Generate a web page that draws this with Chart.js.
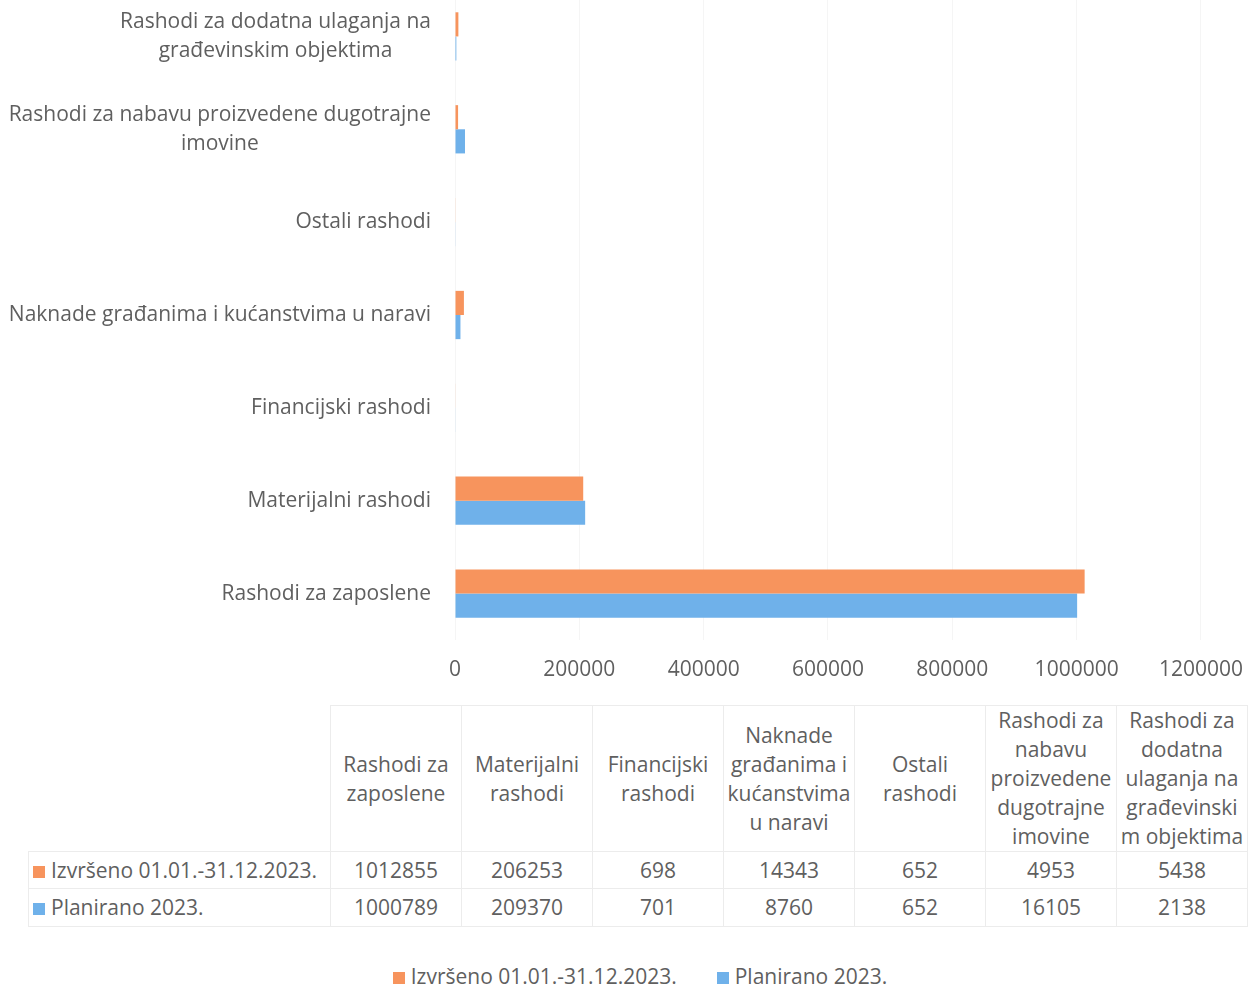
<!DOCTYPE html>
<html>
<head>
<meta charset="utf-8">
<script src="https://cdn.jsdelivr.net/npm/chart.js@4"></script>
<style>
  body { margin: 0; background: #fff; width: 1260px; height: 989px; overflow: hidden; position: relative; font-family: "Open Sans", sans-serif; color: #5f5f5f; }
  #wrap { position: absolute; left: 0; top: -10px; width: 1260px; height: 700px; }
  #tbl { position: absolute; left: 28px; top: 705px; border-collapse: collapse; font-size: 21px; table-layout: fixed; }
  #tbl td { border: 1px solid #ececec; text-align: center; padding: 0 2px; line-height: 29px; overflow-wrap: anywhere; }
  #tbl td.corner { border: none; }
  #tbl td.rowhead { text-align: left; padding-left: 4px; white-space: nowrap; }
  .mk { display: inline-block; width: 12px; height: 12px; margin-right: 6px; }
  #legend { position: absolute; top: 962px; left: 10px; width: 1260px; text-align: center; font-size: 21px; }
  #legend span.item { margin: 0 20px; }
</style>
</head>
<body>
<div id="wrap"><canvas id="myChart"></canvas></div>
<table id="tbl"></table>
<div id="legend"></div>
<script>
var categories = [
  "Rashodi za zaposlene",
  "Materijalni rashodi",
  "Financijski rashodi",
  "Naknade građanima i kućanstvima u naravi",
  "Ostali rashodi",
  "Rashodi za nabavu proizvedene dugotrajne imovine",
  "Rashodi za dodatna ulaganja na građevinskim objektima"
];
var izvrseno = [1012855, 206253, 698, 14343, 652, 4953, 5438];
var planirano = [1000789, 209370, 701, 8760, 652, 16105, 2138];
var seriesNames = ["Izvršeno 01.01.-31.12.2023.", "Planirano 2023."];
var seriesColors = ["#F7945D", "#6FB1EA"];
var xTicks = [0, 200000, 400000, 600000, 800000, 1000000, 1200000];

var textColor = "#5f5f5f";
var font = "21px 'Open Sans'";

// wrap long category names for the axis
function wrapLabel(ctx, text, maxW) {
  var words = text.split(" ");
  var lines = [];
  var cur = "";
  words.forEach(function (w) {
    var t = cur ? cur + " " + w : w;
    if (ctx.measureText(t).width > maxW && cur) {
      lines.push(cur);
      cur = w;
    } else {
      cur = t;
    }
  });
  lines.push(cur);
  return lines;
}

var axisLabelsPlugin = {
  id: "axisLabels",
  afterDraw: function (chart) {
    var ctx = chart.ctx;
    var y = chart.scales.y;
    ctx.save();
    ctx.font = font;
    ctx.fillStyle = textColor;
    ctx.textAlign = "center";
    ctx.textBaseline = "middle";
    var right = chart.chartArea.left - 24;
    categories.forEach(function (c, i) {
      var lines = wrapLabel(ctx, c, 432);
      var maxW = 0;
      lines.forEach(function (l) { maxW = Math.max(maxW, ctx.measureText(l).width); });
      var cy = y.getPixelForValue(i);
      var lh = 29;
      var top = cy - (lines.length - 1) * lh / 2;
      lines.forEach(function (l, k) {
        ctx.fillText(l, right - maxW / 2, top + k * lh);
      });
    });
    ctx.restore();
  }
};

const data = {
  labels: categories,
  datasets: [
    { label: seriesNames[0], data: izvrseno, backgroundColor: seriesColors[0] },
    { label: seriesNames[1], data: planirano, backgroundColor: seriesColors[1] }
  ]
};

const config = {
  type: "bar",
  data: data,
  options: {
    indexAxis: "y",
    responsive: true,
    maintainAspectRatio: false,
    animation: false,
    categoryPercentage: 0.52,
    barPercentage: 1,
    layout: { padding: { left: 455, right: 57, top: 0, bottom: 0 } },
    plugins: { legend: { display: false }, tooltip: { enabled: false } },
    scales: {
      x: {
        min: 0,
        max: 1200000,
        afterBuildTicks: function (s) { s.ticks = xTicks.map(function (v) { return { value: v }; }); },
        afterFit: function (s) { s.height = 50; },
        ticks: {
          color: textColor,
          font: { family: "Open Sans", size: 21 },
          padding: 17,
          callback: function (v) { return String(v); }
        },
        grid: { color: "#f5f5f5", drawTicks: false },
        border: { display: false }
      },
      y: {
        display: false,
        reverse: true
      }
    }
  },
  plugins: [axisLabelsPlugin]
};

const myChart = new Chart(document.getElementById("myChart"), config);

// data table under the chart
var tbl = document.getElementById("tbl");
var colW = 131;
var html = "<colgroup><col style='width:302px'>";
categories.forEach(function () { html += "<col style='width:" + colW + "px'>"; });
html += "</colgroup><tr style='height:145px'><td class='corner'></td>";
categories.forEach(function (c) { html += "<td>" + c + "</td>"; });
html += "</tr>";
[izvrseno, planirano].forEach(function (arr, si) {
  html += "<tr style='height:" + (si === 0 ? 37 : 38) + "px'><td class='rowhead'><span class='mk' style='background:" + seriesColors[si] + "'></span>" + seriesNames[si] + "</td>";
  arr.forEach(function (v) { html += "<td>" + v + "</td>"; });
  html += "</tr>";
});
tbl.innerHTML = html;

var lg = document.getElementById("legend");
lg.innerHTML = seriesNames.map(function (n, i) {
  return "<span class='item'><span class='mk' style='background:" + seriesColors[i] + "'></span>" + n + "</span>";
}).join("");
</script>
</body>
</html>
